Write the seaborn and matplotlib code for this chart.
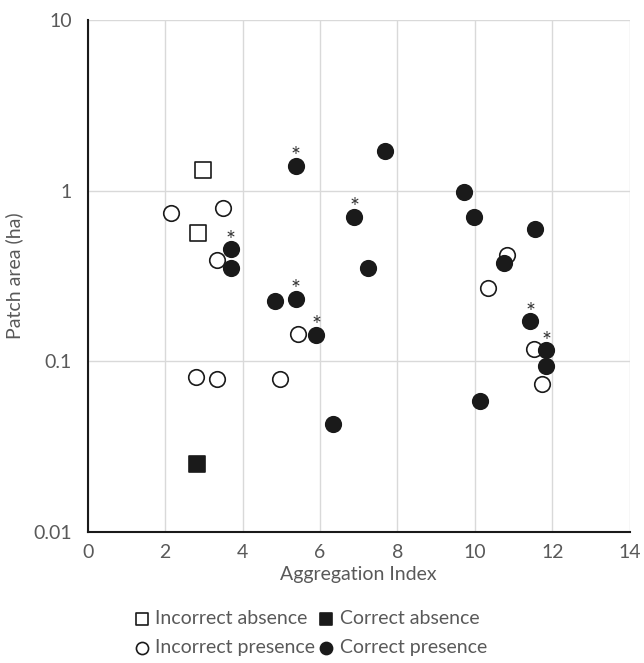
import numpy as np
import pandas as pd
import matplotlib
matplotlib.use("Agg")
import matplotlib.pyplot as plt
import seaborn as sns
from matplotlib.ticker import FixedLocator, FixedFormatter, NullLocator

sns.set_theme(style="white")
plt.rcParams["font.family"] = ["Lato", "DejaVu Sans"]

# Aggregation index (x) and patch area in ha (y) for each group
inc_abs_x = [2.97, 2.85]
inc_abs_y = [1.31, 0.567]

cor_abs_x = [2.82]
cor_abs_y = [0.0251]

inc_pres_x = [2.16, 3.50, 3.33, 5.43, 2.79, 3.34, 4.98, 10.84, 10.34, 11.53, 11.74]
inc_pres_y = [0.736, 0.79, 0.394, 0.145, 0.081, 0.079, 0.079, 0.417, 0.268, 0.117, 0.073]

cor_pres_x = [3.69, 3.69, 5.38, 7.68, 6.88, 7.25, 4.84, 5.38, 5.91, 6.33,
              9.71, 9.98, 11.54, 10.74, 11.43, 11.84, 11.84, 10.13]
cor_pres_y = [0.454, 0.351, 1.40, 1.70, 0.70, 0.353, 0.224, 0.232, 0.143, 0.0428,
              0.98, 0.70, 0.595, 0.378, 0.171, 0.116, 0.094, 0.0587]
cor_pres_sig = [True, False, True, False, True, False, False, True, True, False,
                False, False, False, False, True, True, False, False]

groups = ["Incorrect absence", "Correct absence", "Incorrect presence", "Correct presence"]

df = pd.concat([
    pd.DataFrame({"x": inc_abs_x, "y": inc_abs_y, "group": groups[0]}),
    pd.DataFrame({"x": cor_abs_x, "y": cor_abs_y, "group": groups[1]}),
    pd.DataFrame({"x": inc_pres_x, "y": inc_pres_y, "group": groups[2]}),
    pd.DataFrame({"x": cor_pres_x, "y": cor_pres_y, "group": groups[3]}),
], ignore_index=True)

x_ticks = [0, 2, 4, 6, 8, 10, 12, 14]
y_ticks = [0.01, 0.1, 1, 10]
y_tick_labels = ["0.01", "0.1", "1", "10"]

dark = "#1a1a1a"
grey_text = "#595959"
grid_col = "#d9d9d9"
fs = 14

fig = plt.figure(figsize=(6.44, 6.63), dpi=100)
ax = fig.add_axes([0.136, 0.198, 0.842, 0.772])

styles = {
    groups[0]: dict(marker="s", facecolor="white"),
    groups[1]: dict(marker="s", facecolor=dark),
    groups[2]: dict(marker="o", facecolor="white"),
    groups[3]: dict(marker="o", facecolor=dark),
}

for g in groups:
    sub = df[df["group"] == g]
    st = styles[g]
    sns.scatterplot(data=sub, x="x", y="y", ax=ax, marker=st["marker"],
                    color=st["facecolor"], edgecolor=dark, linewidth=1.2,
                    s=125, zorder=3, label=g, legend=False)

# significance markers above correct-presence points
for xv, yv, sig in zip(cor_pres_x, cor_pres_y, cor_pres_sig):
    if sig:
        ax.annotate("*", (xv, yv), xytext=(0, 1.8), textcoords="offset points",
                    ha="center", va="baseline", fontsize=17, color="#333333",
                    zorder=4)

ax.set_yscale("log")
ax.set_xlim(0, 14)
ax.set_ylim(0.01, 10)
ax.xaxis.set_major_locator(FixedLocator(x_ticks))
ax.yaxis.set_major_locator(FixedLocator(y_ticks))
ax.yaxis.set_major_formatter(FixedFormatter(y_tick_labels))
ax.yaxis.set_minor_locator(NullLocator())

ax.grid(True, color=grid_col, linewidth=1.0, zorder=0)
ax.set_axisbelow(True)
for side in ["top", "right"]:
    ax.spines[side].set_visible(False)
for side in ["left", "bottom"]:
    ax.spines[side].set_color(dark)
    ax.spines[side].set_linewidth(1.5)

ax.tick_params(axis="both", which="major", direction="out", length=4.5, width=1.5,
               color=dark, labelcolor=grey_text, labelsize=fs)
ax.tick_params(axis="x", pad=4)
ax.tick_params(axis="y", pad=7)

ax.set_xlabel("Aggregation Index", fontsize=fs, color=grey_text, labelpad=4)
ax.set_ylabel("Patch area (ha)", fontsize=fs, color=grey_text, labelpad=7)

h, l = ax.get_legend_handles_labels()
# two columns filled column-wise: row 1 = absences, row 2 = presences
order = [groups[0], groups[2], groups[1], groups[3]]
idx = [l.index(g) for g in order]
leg = fig.legend([h[i] for i in idx], [l[i] for i in idx],
                 ncol=2, loc="center", bbox_to_anchor=(0.483, 0.045),
                 frameon=False, fontsize=fs, handletextpad=0.35,
                 columnspacing=0.2, labelspacing=0.6, markerscale=0.78,
                 handlelength=0.7, borderpad=0.1)
for t in leg.get_texts():
    t.set_color(grey_text)

fig.savefig("out.png", dpi=100)
